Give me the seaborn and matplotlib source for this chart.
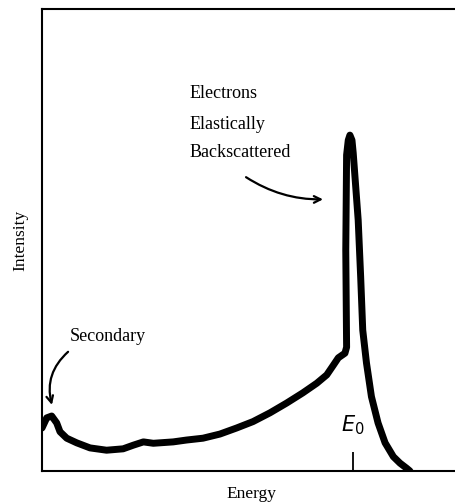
import matplotlib
matplotlib.use("Agg")
import matplotlib.pyplot as plt
import seaborn as sns
import pandas as pd

# Energy spectrum of electrons leaving a target (arbitrary units)
energy = [0.0, 1.14, 2.34, 3.55, 4.35, 5.97, 8.38, 11.6, 15.6, 19.6, 22.1,
          24.5, 26.9, 31.7, 34.9, 38.9, 43.0, 47.0, 51.0, 55.1, 59.1, 63.0,
          66.4, 68.8, 70.4, 71.6, 73.2, 73.6, 73.4, 73.6, 74.0, 74.4, 74.9,
          75.2, 76.4, 77.0, 77.5, 78.4, 79.6, 81.2, 82.9, 84.9, 86.5, 88.1,
          88.9]
intensity = [9.3, 11.5, 11.9, 10.4, 8.5, 7.1, 6.1, 5.0, 4.5, 4.8, 5.6,
             6.3, 6.0, 6.3, 6.7, 7.1, 8.0, 9.3, 10.7, 12.6, 14.7, 16.9,
             19.0, 20.8, 22.9, 24.5, 25.5, 26.8, 47.8, 68.4, 71.6, 72.7, 71.6,
             68.8, 54.3, 42.0, 30.5, 23.4, 16.1, 10.4, 6.1, 3.1, 1.7, 0.6,
             0.0]
e0_position = 75.1

labels_peak = ["Electrons", "Elastically", "Backscattered"]
label_secondary = "Secondary"

sns.set_theme(style="white")
plt.rcParams["font.family"] = ["Liberation Serif", "DejaVu Serif"]
plt.rcParams["mathtext.fontset"] = "dejavusans"

fig = plt.figure(figsize=(4.56, 5.03), dpi=100)
ax = fig.add_axes([42 / 456, 32 / 503, 418 / 456, 462 / 503])

df = pd.DataFrame({"Energy": energy, "Intensity": intensity})
sns.lineplot(data=df, x="Energy", y="Intensity", sort=False, estimator=None,
             color="black", linewidth=5.0, ax=ax,
             solid_joinstyle="round", solid_capstyle="round")

ax.set_xlim(0, 101)
ax.set_ylim(0, 100)

for side in ["left", "bottom", "top", "right"]:
    ax.spines[side].set_color("black")
    ax.spines[side].set_linewidth(1.5)

ax.set_yticks([])
ax.set_xticks([e0_position])
ax.tick_params(axis="x", direction="in", length=14, width=1.3,
               color="black", labelbottom=False, bottom=True)

ax.set_xlabel("Energy", fontsize=12.5, color="black", labelpad=11)
ax.set_ylabel("Intensity", fontsize=12.5, color="black", labelpad=10)

ax.text(e0_position, 8.6, r"$E_0$", fontsize=15, ha="center",
        va="baseline", color="black")

for label, yv in zip(labels_peak, [81.8, 75.1, 69.0]):
    ax.text(35.7, yv, label, fontsize=13, ha="left", va="center",
            color="black")
ax.text(6.8, 29.2, label_secondary, fontsize=13, ha="left", va="center",
        color="black")

ax.annotate("", xy=(67.9, 58.8), xytext=(49.3, 63.6),
            arrowprops=dict(arrowstyle="->", color="black", lw=1.6,
                            connectionstyle="arc3,rad=0.15",
                            shrinkA=0, shrinkB=0))
ax.annotate("", xy=(2.4, 14.3), xytext=(6.3, 25.8),
            arrowprops=dict(arrowstyle="->", color="black", lw=1.6,
                            connectionstyle="arc3,rad=0.3",
                            shrinkA=0, shrinkB=0))

fig.savefig("out.png", dpi=100)
